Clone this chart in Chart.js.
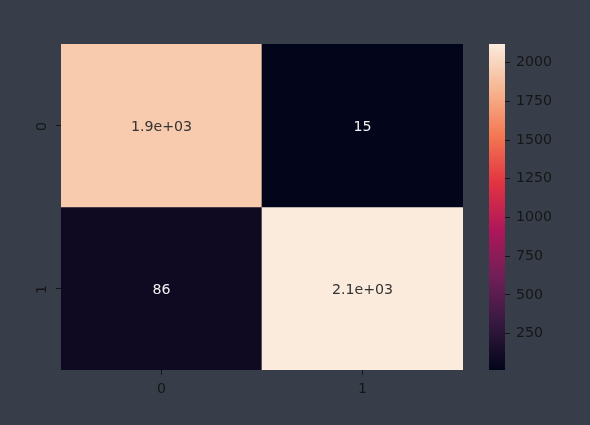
<!DOCTYPE html>
<html>
<head>
<meta charset="utf-8">
<script src="https://cdn.jsdelivr.net/npm/chart.js@4/dist/chart.umd.min.js"></script>
<style>
  html, body { margin: 0; padding: 0; background: #373e4a; }
  #wrap { position: relative; width: 590px; height: 425px; overflow: hidden; }
  canvas { position: absolute; top: 0; }
</style>
</head>
<body>
<div id="wrap">
  <canvas id="heat" width="470" height="425" style="left:0"></canvas>
  <canvas id="cbar" width="120" height="425" style="left:470px"></canvas>
</div>
<script>
// Confusion-matrix style heatmap (seaborn "rocket" look), drawn as floating bars.

const rowLabels = ['0', '1'];
const colLabels = ['0', '1'];
const row0 = [1940, 15];
const row1 = [86, 2120];
const cbarTicks = [250, 500, 750, 1000, 1250, 1500, 1750, 2000];

const rows = [row0, row1];
const vmin = Math.min(...row0, ...row1);
const vmax = Math.max(...row0, ...row1);

const FONT = { family: "'DejaVu Sans', sans-serif", size: 14.2 };
const TICK_COLOR = '#161616';

// rocket colormap, sampled
const rocket = [
  [0, [3, 5, 26]],
  [1 / 7, [53, 25, 62]],
  [2 / 7, [112, 31, 87]],
  [3 / 7, [173, 23, 89]],
  [4 / 7, [225, 51, 66]],
  [5 / 7, [243, 118, 81]],
  [6 / 7, [246, 180, 143]],
  [1, [250, 235, 221]],
];

function rgb(c) { return `rgb(${c.map(Math.round).join(',')})`; }

function colorAt(t) {
  t = Math.max(0, Math.min(1, t));
  for (let i = 1; i < rocket.length; i++) {
    const [t1, c1] = rocket[i];
    const [t0, c0] = rocket[i - 1];
    if (t <= t1) {
      const f = (t - t0) / (t1 - t0);
      return c0.map((v, k) => v + (c1[k] - v) * f);
    }
  }
  return rocket[rocket.length - 1][1];
}

const norm = (v) => (v - vmin) / (vmax - vmin);

// python '.2g'
function fmt2g(v) {
  return v.toPrecision(2).replace(/e([+-])(\d)$/, 'e$10$2');
}

const cellText = {
  id: 'cellText',
  afterDatasetsDraw(chart) {
    const { ctx, scales } = chart;
    ctx.save();
    ctx.font = `${FONT.size}px ${FONT.family}`;
    ctx.textAlign = 'center';
    ctx.textBaseline = 'middle';
    rows.forEach((vals, r) => {
      vals.forEach((v, c) => {
        const x = scales.x.getPixelForValue(c);
        const y = scales.y.getPixelForValue(r + 0.5) + 2;
        const lum = colorAt(norm(v));
        const light = 0.299 * lum[0] + 0.587 * lum[1] + 0.114 * lum[2] > 128;
        ctx.fillStyle = light ? '#333333' : '#f2f2f2';
        ctx.fillText(fmt2g(v), x, y);
      });
    });
    // rotated y tick labels
    ctx.fillStyle = TICK_COLOR;
    rowLabels.forEach((lab, r) => {
      ctx.save();
      ctx.translate(scales.y.right - 19, scales.y.getPixelForValue(r + 0.5) + 1);
      ctx.rotate(-Math.PI / 2);
      ctx.fillText(lab, 0, 0);
      ctx.restore();
    });
    ctx.restore();
  },
};

new Chart(document.getElementById('heat'), {
  type: 'bar',
  data: {
    labels: colLabels,
    datasets: rows.map((vals, r) => ({
      data: vals.map(() => [r, r + 1]),
      backgroundColor: vals.map((v) => rgb(colorAt(norm(v)))),
      borderWidth: 0,
      grouped: false,
      barPercentage: 1,
      categoryPercentage: 1,
    })),
  },
  options: {
    responsive: false,
    devicePixelRatio: 1,
    animation: false,
    layout: { padding: { left: 41, top: 44, right: 7, bottom: 25 } },
    plugins: { legend: { display: false }, tooltip: { enabled: false } },
    scales: {
      x: {
        grid: { drawOnChartArea: false, offset: false, tickLength: 5, color: TICK_COLOR },
        border: { display: false },
        ticks: { color: TICK_COLOR, font: FONT, padding: 6 },
        afterFit: (s) => { s.height = 30; },
      },
      y: {
        type: 'linear',
        min: 0,
        max: 2,
        reverse: true,
        afterBuildTicks: (s) => { s.ticks = [{ value: 0.5 }, { value: 1.5 }]; },
        ticks: { display: false },
        grid: { drawOnChartArea: false, tickLength: 5, color: TICK_COLOR },
        border: { display: false },
        afterFit: (s) => { s.width = 20; },
      },
    },
  },
  plugins: [cellText],
});

// colorbar
new Chart(document.getElementById('cbar'), {
  type: 'bar',
  data: {
    labels: [''],
    datasets: [{
      data: [[vmin, vmax]],
      borderWidth: 0,
      barPercentage: 1,
      categoryPercentage: 1,
      backgroundColor: (c) => {
        const { chart } = c;
        if (!chart.chartArea) return 'transparent';
        const y = chart.scales.y;
        const g = chart.ctx.createLinearGradient(0, y.getPixelForValue(vmin), 0, y.getPixelForValue(vmax));
        rocket.forEach(([t, col]) => g.addColorStop(t, rgb(col)));
        return g;
      },
    }],
  },
  options: {
    responsive: false,
    devicePixelRatio: 1,
    animation: false,
    layout: { padding: { left: 19, top: 44, right: 0, bottom: 55 } },
    plugins: { legend: { display: false }, tooltip: { enabled: false } },
    scales: {
      x: { display: false },
      y: {
        position: 'right',
        min: vmin,
        max: vmax,
        afterBuildTicks: (s) => { s.ticks = cbarTicks.map((v) => ({ value: v })); },
        ticks: { color: TICK_COLOR, font: FONT, padding: 6, callback: (v) => String(v) },
        grid: { drawOnChartArea: false, tickLength: 5, color: TICK_COLOR },
        border: { display: false },
        afterFit: (s) => { s.width = 85; },
      },
    },
  },
});
</script>
</body>
</html>
